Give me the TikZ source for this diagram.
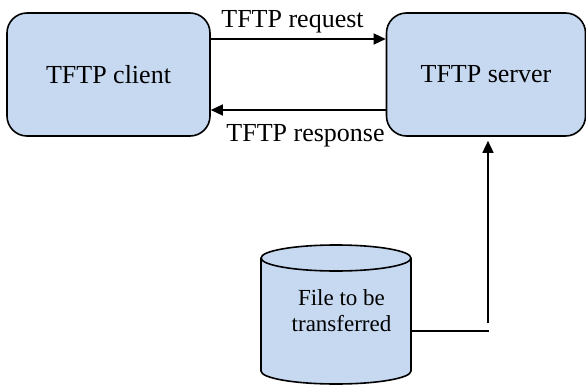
\documentclass[tikz,border=0pt]{standalone}
\usepackage{fontspec}
\setmainfont{Liberation Serif}
\usetikzlibrary{arrows.meta}
\definecolor{boxfill}{HTML}{C6D9F1}
\begin{document}
\begin{tikzpicture}[x=1pt,y=1pt,
  box/.style={draw, line width=1.6pt, fill=boxfill, rounded corners=20pt,
    minimum width=199pt, minimum height=123pt, inner sep=0pt,
    font=\fontsize{26}{30}\selectfont},
  conn/.style={line width=1.4pt},
  link/.style={conn, -{Triangle[length=12pt,width=11pt]}},
  lbl/.style={font=\fontsize{26}{30}\selectfont, inner sep=0pt, anchor=base}]
\useasboundingbox (0,0) rectangle (586,-385);

% client and server
\node[box, minimum width=203pt] (client) at (108.5,-74.5) {TFTP client};
\node[box] (server) at (486,-74.5) {TFTP server};

% request / response exchange
\draw[link] ([yshift=35.5pt]client.east) -- ([yshift=35.5pt]server.west);
\draw[link] ([yshift=-35.5pt]server.west) -- ([yshift=-35.5pt]client.east);
\node[lbl] (req) at (292.5,-28) {TFTP request};
\node[lbl] (resp) at (305.5,-142) {TFTP response};

% storage cylinder
\draw[line width=1.6pt, fill=boxfill]
  (261,-258) -- (261,-371) arc[start angle=180, end angle=360, x radius=75, y radius=13]
  -- (411,-258) arc[start angle=0, end angle=180, x radius=75, y radius=13] -- cycle;
\draw[line width=1.6pt] (261,-258) arc[start angle=180, end angle=360, x radius=75, y radius=13];
\node[align=center, inner sep=0pt, font=\fontsize{23}{26}\selectfont] (file) at (341.5,-311)
  {File to be\\transferred};

% file feed into the server
\coordinate (cylR) at (411,-331);
\coordinate (bend) at (489,-331);
\coordinate (up) at (488,-323);
\draw[conn] (cylR) -- (bend);
\draw[link, shorten >=4pt] (up) -- (up |- server.south);
\end{tikzpicture}
\end{document}
